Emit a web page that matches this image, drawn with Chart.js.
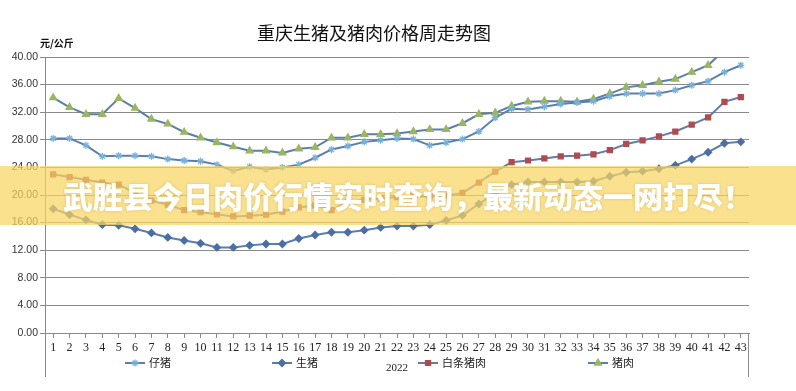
<!DOCTYPE html>
<html>
<head>
<meta charset="utf-8">
<script src="https://cdn.jsdelivr.net/npm/chart.js@4"></script>
<style>
  html, body { margin: 0; padding: 0; background: #fff; }
  #wrap { position: relative; width: 796px; height: 391px; overflow: hidden; }
  #c { position: absolute; left: 0; top: 0; }
  #banner {
    position: absolute; left: 0; top: 166px; width: 796px; height: 59px;
    background: rgba(248, 214, 98, 0.72);
    pointer-events: none;
  }
  #banner span {
    position: absolute; left: 63px; top: 50%; transform: translateY(-52%);
    font-family: "Noto Sans CJK SC", sans-serif; font-weight: 900; font-size: 30px;
    color: #ffffff; white-space: nowrap; letter-spacing: 0px;
    text-shadow: 0 0 3px rgba(190, 150, 50, 0.45);
  }
</style>
</head>
<body>
<div id="wrap">
  <canvas id="c" width="796" height="391"></canvas>
  <div id="banner"><span>武胜县今日肉价行情实时查询，最新动态一网打尽！</span></div>
</div>
<script>
// ---- data ----
const weeks = ['1','2','3','4','5','6','7','8','9','10','11','12','13','14','15','16','17','18','19','20','21','22','23','24','25','26','27','28','29','30','31','32','33','34','35','36','37','38','39','40','41','42','43'];
const piglet = [28.2,28.2,27.2,25.6,25.7,25.7,25.6,25.2,25.0,24.9,24.4,23.5,24.1,23.7,24.0,24.4,25.4,26.6,27.1,27.7,27.95,28.2,28.1,27.2,27.6,28.1,29.2,31.2,32.5,32.4,32.8,33.2,33.4,33.6,34.3,34.7,34.7,34.7,35.2,35.9,36.5,37.8,38.8];
const livePig = [18.0,17.15,16.4,15.7,15.6,15.1,14.5,13.85,13.4,13.0,12.4,12.4,12.7,12.9,12.9,13.7,14.2,14.6,14.6,14.9,15.3,15.5,15.5,15.7,16.3,17.05,18.7,20.3,21.5,21.9,21.9,21.9,21.9,22.0,22.7,23.3,23.45,23.8,24.3,25.2,26.2,27.5,27.7];
const whitePork = [23.0,22.6,22.2,21.8,21.5,20.3,19.2,18.6,17.8,17.5,17.2,16.9,17.0,17.15,17.6,18.2,18.5,17.8,19.0,19.3,19.5,19.7,19.8,19.8,19.9,20.3,21.8,23.4,24.75,25.0,25.3,25.6,25.7,25.9,26.5,27.4,27.9,28.5,29.2,30.2,31.25,33.5,34.2];
const pork = [34.1,32.7,31.7,31.7,34.0,32.6,31.0,30.3,29.1,28.3,27.6,27.0,26.4,26.4,26.1,26.7,26.9,28.3,28.3,28.8,28.8,28.9,29.2,29.5,29.5,30.4,31.7,31.9,32.9,33.5,33.6,33.6,33.5,33.9,34.7,35.6,35.9,36.4,36.8,37.8,38.8,41.0,41.8];
const seriesNames = ['仔猪','生猪','白条猪肉','猪肉'];
const yTicks = [0,4,8,12,16,20,24,28,32,36,40];
const titleText = '重庆生猪及猪肉价格周走势图';
const unitText = '元/公斤';
const yearText = '2022';

const lineColor = '#5B7EAF';
const gridColor = '#8a8a8a';

function ds(label, data, style, color, radius) {
  return {
    label, data,
    borderColor: lineColor, borderWidth: 2,
    pointStyle: style, pointRadius: radius, pointHoverRadius: radius,
    pointBackgroundColor: color, pointBorderColor: color, pointBorderWidth: 1.3,
    tension: 0, fill: false
  };
}

const legendX = [125, 272, 418, 588];

const decorPlugin = {
  id: 'decor',
  afterDraw(chart) {
    const ctx = chart.ctx;
    const a = chart.chartArea;
    ctx.save();
    // frame extensions
    ctx.strokeStyle = gridColor; ctx.lineWidth = 1;
    ctx.beginPath();
    ctx.moveTo(a.left + 0.5, a.top); ctx.lineTo(a.left + 0.5, 377);
    ctx.moveTo(a.right - 0.5, a.bottom); ctx.lineTo(a.right - 0.5, 377);
    ctx.stroke();
    // title
    ctx.fillStyle = '#111';
    ctx.font = '18px "Noto Sans CJK SC", serif';
    ctx.textAlign = 'center'; ctx.textBaseline = 'middle';
    ctx.fillText(titleText, 374, 33);
    // unit
    ctx.font = 'bold 10px "Noto Sans CJK SC", sans-serif';
    ctx.textAlign = 'left';
    ctx.fillText(unitText, 40, 43);
    // legend
    const ly = 363;
    chart.data.datasets.forEach((d, i) => {
      const x0 = legendX[i];
      ctx.strokeStyle = d.borderColor; ctx.lineWidth = 2;
      ctx.beginPath(); ctx.moveTo(x0, ly); ctx.lineTo(x0 + 20, ly); ctx.stroke();
      ctx.fillStyle = d.pointBackgroundColor;
      ctx.strokeStyle = d.pointBorderColor; ctx.lineWidth = 1.3;
      Chart.helpers.drawPoint(ctx, {pointStyle: d.pointStyle, radius: d.pointRadius, rotation: 0, borderWidth: 1.3}, x0 + 10, ly);
      ctx.fillStyle = '#222';
      ctx.font = '11px "Noto Sans CJK SC", sans-serif';
      ctx.textAlign = 'left'; ctx.textBaseline = 'middle';
      ctx.fillText(d.label, x0 + 24, ly);
    });
    ctx.restore();
  }
};

new Chart(document.getElementById('c'), {
  type: 'line',
  data: {
    labels: weeks,
    datasets: [
      ds(seriesNames[0], piglet, 'star', '#73B2DC', 3.5),
      ds(seriesNames[1], livePig, 'rectRot', '#4A6FA5', 3.5),
      ds(seriesNames[2], whitePork, 'rect', '#B5484B', 3.5),
      ds(seriesNames[3], pork, 'triangle', '#9AB75E', 4)
    ]
  },
  options: {
    responsive: false, animation: false,
    layout: { padding: { top: 57, right: 47, bottom: 0, left: 0 } },
    plugins: { legend: { display: false }, tooltip: { enabled: false } },
    scales: {
      x: {
        offset: true,
        grid: { drawOnChartArea: false, drawTicks: true, tickLength: 5, color: gridColor },
        border: { display: true, color: gridColor },
        ticks: { autoSkip: false, maxRotation: 0, padding: 3, color: '#222',
                 font: { family: '"Liberation Serif", serif', size: 12 } },
        title: { display: true, text: yearText, color: '#222',
                 font: { family: '"Liberation Serif", serif', size: 11 },
                 padding: { top: 0, bottom: 16 } },
        afterFit(s) { s.height = 58; }
      },
      y: {
        min: 0, max: 40,
        afterBuildTicks(s) { s.ticks = yTicks.map(v => ({ value: v })); },
        grid: { color: gridColor, lineWidth: 1, drawTicks: true, tickLength: 5 },
        border: { display: true, color: gridColor },
        ticks: { padding: 2, color: '#333',
                 font: { family: '"Liberation Sans", sans-serif', size: 10.5 },
                 callback: v => Number(v).toFixed(2) },
        afterFit(s) { s.width = 45; }
      }
    }
  },
  plugins: [decorPlugin]
});
</script>
</body>
</html>
